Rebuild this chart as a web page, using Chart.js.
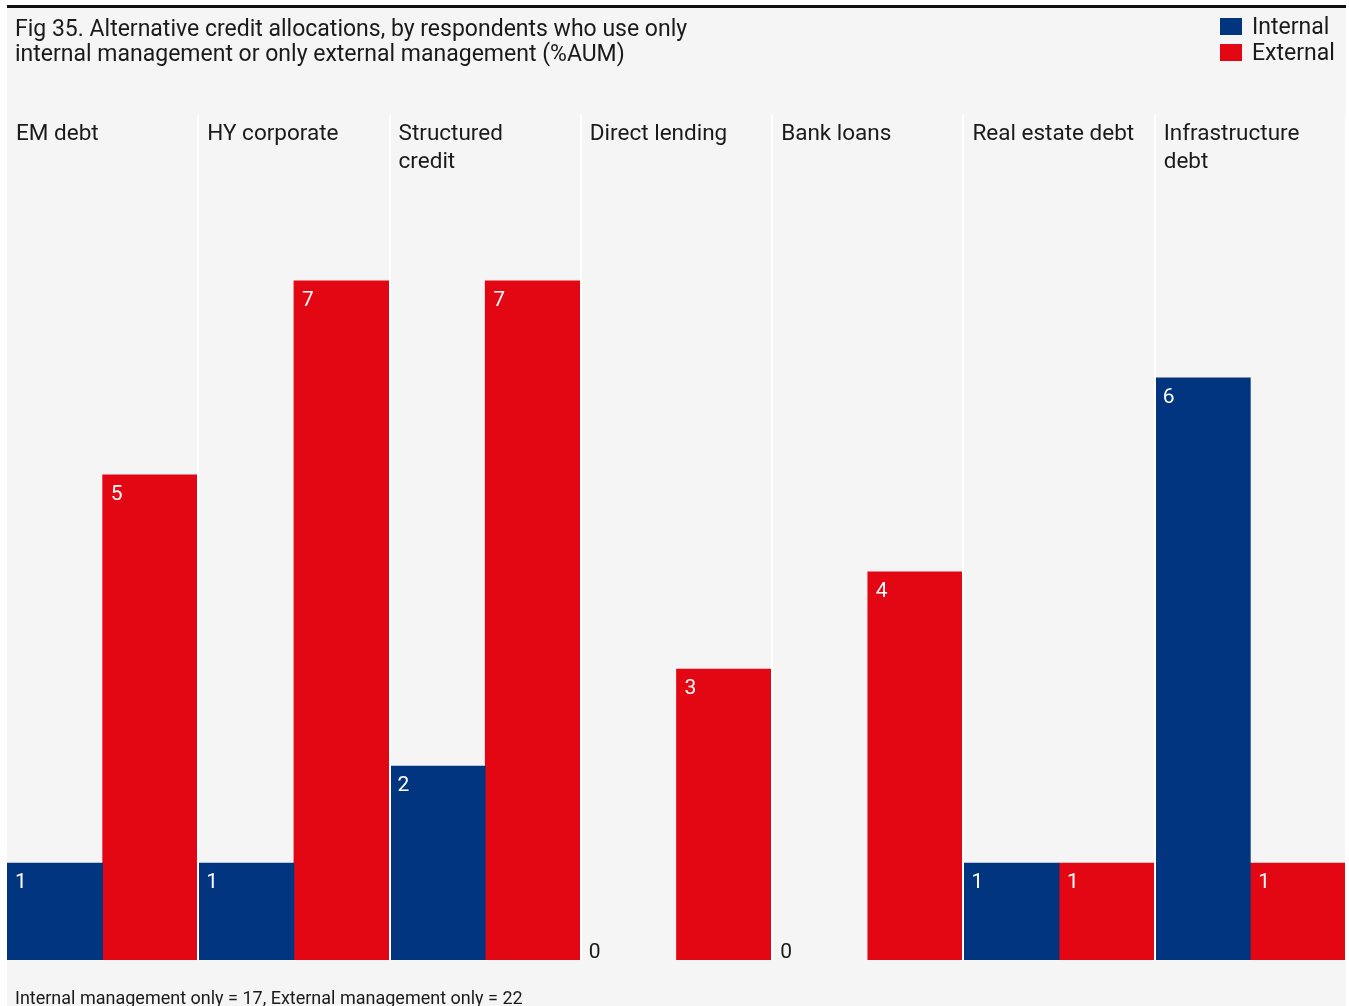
<!DOCTYPE html>
<html>
<head>
<meta charset="utf-8">
<script src="https://cdn.jsdelivr.net/npm/chart.js@4.4.0/dist/chart.umd.min.js"></script>
<style>
  body { margin: 0; background: #fff; font-family: Roboto, sans-serif; color: #1a1a1a; }
  #panel { position: absolute; left: 7px; top: 5px; width: 1339px; height: 1001px; border-top: 3px solid #111; background: #f5f5f5; box-sizing: border-box; }
  #title { position: absolute; left: 15px; top: 16px; font-size: 23px; line-height: 25px; white-space: nowrap; }
  .sw { position: absolute; left: 1220px; width: 22px; height: 17px; }
  .lg { position: absolute; left: 1252px; font-size: 23px; line-height: 26px; }
  #note { position: absolute; left: 15px; top: 988px; font-size: 18px; line-height: 20px; white-space: nowrap; }
  #myChart { position: absolute; left: 0; top: 0; }
</style>
</head>
<body>
<div id="panel"></div>
<canvas id="myChart" width="1349" height="1006"></canvas>
<div id="title">Fig 35. Alternative credit allocations, by respondents who use only<br>internal management or only external management (%AUM)</div>
<div class="sw" style="top:18px;background:#02357f"></div>
<div class="lg" style="top:14px">Internal</div>
<div class="sw" style="top:44px;background:#e30613"></div>
<div class="lg" style="top:40px">External</div>
<div id="note">Internal management only = 17, External management only = 22</div>
<script>
const categorias = [['EM debt'], ['HY corporate'], ['Structured', 'credit'], ['Direct lending'], ['Bank loans'], ['Real estate debt'], ['Infrastructure', 'debt']]
const internalVals = [1, 1, 2, 0, 0, 1, 6]
const externalVals = [5, 7, 7, 3, 4, 1, 1]
const azul = '#02357f'
const rojo = '#e30613'

/* etiquetas de categoria y valores */
const etiquetas = {
  id: 'etiquetas',
  afterDraw(chart) {
    const ctx = chart.ctx
    const xScale = chart.scales.x
    const ancho = xScale.width / categorias.length
    ctx.save()
    ctx.font = '22.5px Roboto'
    ctx.fillStyle = '#1a1a1a'
    ctx.textAlign = 'left'
    ctx.textBaseline = 'alphabetic'
    categorias.forEach((lineas, i) => {
      const x = xScale.getPixelForValue(i) - ancho / 2 + 9
      lineas.forEach((t, j) => ctx.fillText(t, x, 140 + j * 28))
    })
    ctx.font = '21px Roboto'
    chart.data.datasets.forEach((ds, d) => {
      chart.getDatasetMeta(d).data.forEach((bar, i) => {
        const v = ds.data[i]
        const left = bar.x - bar.width / 2
        if (v > 0) {
          ctx.fillStyle = '#fff'
          ctx.fillText(String(v), left + 8, bar.y + 25)
        } else {
          ctx.fillStyle = '#1a1a1a'
          ctx.fillText(String(v), left + 8, bar.y - 2)
        }
      })
    })
    ctx.restore()
  }
}

const colorBarra = (base) => (c) => c.raw > 0 ? base : 'rgba(0,0,0,0)'

const config = {
  type: 'bar',
  data: {
    labels: categorias,
    datasets: [
      { label: 'Internal', data: internalVals, backgroundColor: colorBarra(azul), borderWidth: 0 },
      { label: 'External', data: externalVals, backgroundColor: colorBarra(rojo), borderWidth: 0 }
    ]
  },
  options: {
    responsive: false,
    animation: false,
    devicePixelRatio: 1,
    layout: { padding: { left: 7, right: 3, top: 115, bottom: 46 } },
    datasets: { bar: { categoryPercentage: 1, barPercentage: 1 } },
    plugins: { legend: { display: false }, tooltip: { enabled: false } },
    scales: {
      x: {
        grid: {
          z: 1,
          offset: true,
          drawTicks: false,
          lineWidth: 2,
          color: (c) => (c.index === 0 || c.index === categorias.length) ? 'rgba(0,0,0,0)' : '#ffffff'
        },
        border: { display: false },
        ticks: { display: false }
      },
      y: { display: false, min: 0, max: 8.71 }
    }
  },
  plugins: [etiquetas]
}

new Chart(document.getElementById('myChart'), config)
</script>
</body>
</html>
